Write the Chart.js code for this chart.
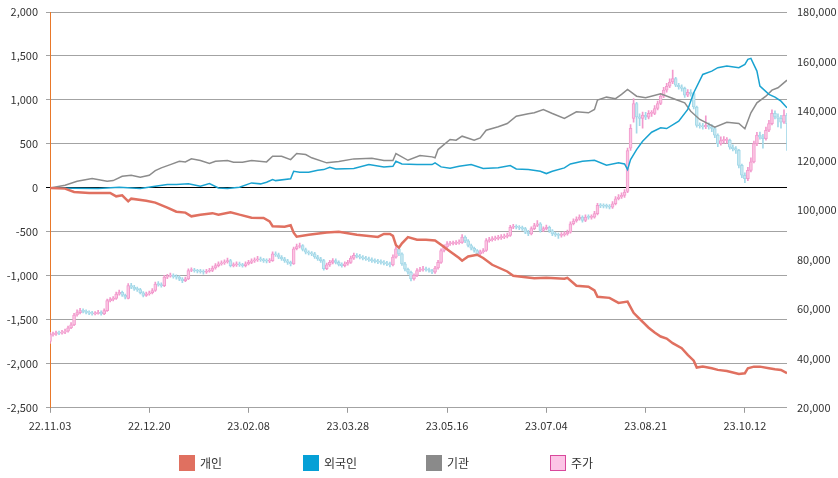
<!DOCTYPE html>
<html>
<head>
<meta charset="utf-8">
<script src="https://cdn.jsdelivr.net/npm/chart.js@4.4.0/dist/chart.umd.min.js"></script>
<style>
  body { margin: 0; background: #fff; }
  #wrap { position: relative; width: 838px; height: 478px; }
  #legend { position: absolute; left: 0; top: 455px; width: 838px; height: 17px; font: 12px "Noto Sans CJK KR", "Noto Sans", sans-serif; color: #333; }
  .item { position: absolute; top: 0; height: 17px; line-height: 17px; }
  .box { position: absolute; left: 0; top: 0; width: 16px; height: 16px; box-sizing: border-box; }
  .lbl { position: absolute; left: 21px; top: -1px; white-space: nowrap; }
</style>
</head>
<body>
<div id="wrap">
  <canvas id="chart"></canvas>
  <div id="legend"></div>
</div>
<script>
// x axis: trading-day index, labels every 33 days
var tickIdx = [0, 33, 66, 99, 132, 165, 198, 231];
var tickLabels = ["22.11.03", "22.12.20", "23.02.08", "23.03.28", "23.05.16", "23.07.04", "23.08.21", "23.10.12"];
var lastIdx = 245;

// 개인 (cumulative, left axis)
var indivIdx = [0,5,8,13,20,22,24,26,27,32,35,39,42,45,47,50,54,56,60,63,67,71,73,74,78,80,81,82,86,92,96,102,109,111,113,114,115,116,117,119,122,125,128,130,133,136,137,139,142,144,147,152,154,156,161,165,171,172,175,179,181,182,186,189,192,194,195,199,201,203,205,207,210,212,214,215,217,220,222,225,229,231,232,234,236,239,241,243,245];
var indivVal = [0,-8,-46,-57,-57,-96,-84,-153,-122,-145,-167,-224,-270,-281,-323,-304,-287,-304,-276,-304,-338,-342,-380,-435,-441,-424,-509,-555,-532,-506,-498,-532,-558,-524,-524,-545,-650,-680,-630,-560,-589,-589,-597,-646,-722,-797,-828,-779,-760,-797,-874,-950,-999,-1007,-1027,-1022,-1033,-1022,-1113,-1124,-1166,-1238,-1250,-1307,-1292,-1420,-1454,-1590,-1645,-1690,-1713,-1765,-1822,-1899,-1964,-2043,-2032,-2050,-2069,-2081,-2115,-2107,-2050,-2032,-2032,-2050,-2062,-2069,-2107];

// 외국인
var foreignIdx = [0,16,23,30,35,39,42,46,50,53,56,59,63,67,70,72,74,75,80,81,83,86,89,91,93,95,101,106,111,114,115,117,122,127,128,130,133,136,140,144,149,153,155,159,163,165,167,171,173,177,181,185,189,191,192,193,195,197,200,203,205,209,212,214,217,220,222,225,229,231,232,233,235,236,239,241,243,245];
var foreignVal = [0,-8,7,-8,18,38,38,46,18,49,0,-8,7,57,46,64,95,83,103,189,178,178,200,208,235,216,220,265,239,246,303,273,265,265,285,239,223,246,265,220,228,254,216,208,189,163,189,228,273,303,314,257,285,273,208,322,436,531,633,683,675,759,892,1082,1290,1328,1367,1385,1367,1404,1461,1473,1328,1157,1063,1032,986,911];

// 기관
var instIdx = [0,5,9,14,19,21,24,27,30,33,35,37,40,43,45,47,50,53,55,59,61,64,67,72,74,77,80,82,85,87,92,96,101,107,111,114,115,119,123,127,128,129,133,135,137,141,143,145,149,152,155,159,161,164,167,171,175,179,181,182,185,188,190,192,195,198,203,208,211,213,216,221,225,229,231,233,235,238,240,242,245];
var instVal = [0,30,75,106,75,83,132,144,121,144,197,228,265,303,296,330,311,277,303,311,292,292,311,296,360,360,322,391,379,342,285,300,330,337,311,311,391,314,368,353,342,436,550,542,588,542,569,656,695,732,816,843,854,892,846,789,866,854,892,998,1032,1014,1063,1120,1043,1025,1071,1006,968,872,778,690,747,732,672,854,968,1043,1112,1139,1225];

// 주가 (천원 단위, right axis)
var priceOpen = [46.8,49.6,49.8,50.3,50.2,50.6,51.0,52.3,53.5,57.5,
58.5,59.3,59.0,58.6,58.3,58.0,58.2,58.6,58.0,59.3,
63.3,63.8,64.2,66.0,66.7,65.5,64.2,69.4,68.8,68.0,
67.8,66.5,65.4,66.0,66.5,67.4,70.0,69.8,69.4,72.8,
73.2,73.5,73.0,72.8,72.0,71.4,72.1,75.5,75.8,75.4,
75.2,75.0,74.8,75.2,75.5,76.5,77.5,78.2,78.6,79.0,
79.5,77.5,77.8,78.2,77.8,77.5,78.2,78.8,79.4,79.8,
80.2,79.8,79.5,79.3,79.5,82.2,81.8,80.9,80.2,79.4,
78.8,78.2,84.3,85.2,85.6,84.0,82.9,82.5,82.2,81.0,
80.2,79.5,76.2,77.8,78.8,79.5,78.8,78.0,77.5,78.2,
78.8,80.5,81.6,81.2,80.9,80.5,80.2,79.8,79.5,79.2,
79.0,78.8,78.5,78.2,77.8,80.9,84.3,82.2,78.2,76.0,
74.8,72.1,73.5,75.5,75.8,76.2,75.8,75.5,74.8,76.5,
78.8,83.6,85.0,86.3,86.4,86.5,86.7,86.9,89.0,87.5,
85.6,84.5,83.6,82.2,83.0,83.6,87.6,88.0,88.3,88.5,
88.8,89.0,89.3,89.7,93.0,93.2,93.0,92.7,92.4,91.0,
90.3,92.4,93.7,94.4,91.7,92.4,93.0,91.5,90.3,90.0,
89.7,90.0,90.3,91.0,94.4,95.5,96.3,97.1,95.7,97.1,
97.0,97.1,98.5,101.8,101.6,101.5,101.4,101.1,102.5,104.5,
105.2,105.9,107.5,125.0,137.0,143.0,137.6,137.0,138.3,137.5,
139.0,139.0,141.0,143.0,146.0,148.4,150.0,151.7,153.1,150.4,
149.8,149.1,146.4,147.5,147.0,141.6,134.2,134.0,133.5,134.2,
133.5,132.9,130.2,126.8,128.0,128.1,128.1,125.4,124.8,124.1,
118.0,114.0,112.6,116.0,119.4,126.8,130.2,129.5,128.8,132.2,
134.9,139.0,137.6,137.0,135.5,138.3];
var priceClose = [49.6,49.8,50.3,50.2,50.6,51.0,52.3,53.5,57.5,58.5,
59.3,59.0,58.6,58.3,58.0,58.2,58.6,58.0,59.3,63.3,
63.8,64.2,66.0,66.7,65.5,64.7,69.4,68.8,68.0,67.8,
66.5,65.4,66.0,66.5,67.4,70.0,69.8,69.4,72.8,73.2,
73.5,73.0,72.8,72.0,71.4,72.1,75.5,75.8,75.4,75.2,
75.0,74.8,75.2,75.5,76.5,77.5,78.2,78.6,79.0,79.5,
77.5,77.8,78.2,77.8,77.5,78.2,78.8,79.4,79.8,80.2,
79.8,79.5,79.3,79.5,82.2,81.8,80.9,80.2,79.4,78.8,
78.2,84.3,85.2,85.6,84.0,82.9,82.5,82.2,81.0,80.2,
79.5,76.2,77.8,78.8,79.5,78.8,78.0,77.5,78.2,78.8,
80.5,81.6,81.2,80.9,80.5,80.2,79.8,79.5,79.2,79.0,
78.8,78.5,78.2,77.8,80.9,84.3,82.2,78.2,76.0,74.8,
72.1,73.5,75.5,75.8,76.2,75.8,75.5,74.8,76.5,78.8,
83.6,85.0,86.3,86.4,86.5,86.7,86.9,89.0,87.5,85.6,
84.5,83.6,82.2,83.0,83.6,87.6,88.0,88.3,88.5,88.8,
89.0,89.3,89.7,93.0,93.2,93.0,92.7,92.4,91.0,90.3,
92.4,93.7,94.4,91.7,92.4,93.0,91.5,90.3,90.0,89.7,
90.0,90.3,91.0,94.4,95.5,96.3,97.1,95.7,97.1,97.0,
97.1,98.5,101.8,101.6,101.5,101.4,101.1,102.5,104.5,105.2,
105.9,107.2,124.0,133.0,143.0,137.6,137.0,138.3,137.5,139.0,
139.0,141.0,143.0,146.0,148.4,150.0,151.7,153.1,150.4,149.8,
149.1,146.4,147.5,147.0,141.6,134.2,134.0,133.5,134.2,133.5,
132.9,130.2,126.8,128.0,128.1,128.1,125.4,124.8,124.1,118.0,
114.0,112.6,116.0,119.4,126.8,130.2,129.5,128.8,132.2,134.9,
139.0,137.6,137.0,135.5,138.3,134.9];
var priceHigh = [50.5,50.6,51.0,51.0,51.3,51.8,53.0,54.5,58.2,59.6,
60.2,60.0,59.6,59.2,59.0,58.9,59.4,59.2,60.0,64.0,
64.6,65.0,66.8,67.6,67.2,66.0,70.2,70.3,69.5,68.8,
68.3,67.0,66.8,67.2,68.2,70.8,71.0,70.5,73.5,74.0,
74.5,74.2,73.8,73.4,72.6,72.8,76.2,76.6,76.4,76.0,
76.0,75.8,76.0,76.4,77.3,78.3,79.0,79.4,79.8,80.5,
80.0,78.6,79.0,78.9,78.4,79.0,79.6,80.2,80.6,81.2,
80.9,80.4,80.2,80.3,83.0,83.0,82.5,81.5,80.8,80.0,
79.3,85.0,86.2,86.6,86.0,84.6,83.5,83.2,82.8,81.6,
80.8,80.0,78.5,79.6,80.3,80.2,79.4,78.6,79.0,79.6,
81.3,82.5,82.3,82.0,81.5,81.2,80.9,80.6,80.2,80.0,
79.8,79.5,79.2,78.9,81.8,85.2,84.8,82.6,78.8,76.5,
75.3,74.2,76.3,76.8,77.2,76.9,76.5,76.0,77.2,79.6,
84.3,85.9,87.2,87.3,87.4,87.6,87.9,90.0,89.5,88.0,
86.2,85.0,84.0,83.8,84.4,88.4,88.9,89.2,89.4,89.7,
90.0,90.2,90.6,93.8,94.2,94.0,93.7,93.5,93.0,91.7,
93.2,94.6,95.7,94.9,93.2,93.9,93.5,92.0,91.0,90.6,
90.8,91.2,91.8,95.2,96.4,97.2,98.0,97.6,98.0,98.0,
98.0,99.4,102.7,102.6,102.5,102.4,102.2,103.4,105.4,106.2,
106.9,108.2,125.0,134.5,145.0,143.5,138.8,139.5,139.4,140.2,
140.2,142.2,144.0,147.0,149.5,151.2,153.0,156.5,153.6,151.2,
150.6,149.6,148.6,148.6,147.5,142.0,135.2,135.0,138.0,135.2,
134.5,133.4,130.8,129.5,129.6,129.2,128.6,126.3,125.6,124.5,
118.5,115.0,117.2,121.0,127.8,131.4,131.5,130.5,133.5,136.2,
140.5,140.0,138.8,138.2,140.5,139.0];
var priceLow = [46.0,49.0,49.3,49.6,49.8,50.0,50.6,52.0,53.2,57.0,
58.0,58.4,58.0,57.6,57.4,57.5,57.8,57.4,57.6,59.0,
62.8,63.2,63.8,65.5,65.0,64.0,64.0,68.2,67.4,67.0,
66.0,64.8,65.0,65.5,66.0,67.0,69.2,68.8,69.0,72.2,
72.8,72.4,72.0,71.4,70.6,71.0,71.8,75.0,74.8,74.5,
74.4,74.0,74.3,74.8,75.0,76.0,77.0,77.7,78.0,78.5,
77.0,77.0,77.2,77.2,76.8,77.0,77.8,78.3,78.8,79.2,
79.2,78.8,78.6,78.7,79.2,81.2,80.3,79.6,78.8,78.0,
77.4,78.0,83.8,84.6,83.4,82.2,81.8,81.5,80.4,79.6,
78.8,75.6,75.8,77.2,78.2,78.2,77.4,76.8,77.0,77.7,
78.4,80.0,80.6,80.2,79.8,79.6,79.2,78.8,78.6,78.3,
78.1,77.8,77.5,77.0,77.4,80.5,81.5,77.6,75.3,74.0,
71.3,71.6,73.0,75.0,75.2,75.2,74.8,74.2,74.3,76.0,
78.4,83.0,84.6,85.6,85.8,85.9,86.1,86.5,86.8,85.0,
83.8,82.9,81.5,81.7,82.5,83.2,87.0,87.4,87.7,87.9,
88.1,88.4,88.7,89.3,92.4,92.3,92.0,91.7,90.4,89.6,
89.9,92.0,93.2,91.0,91.2,91.9,90.9,89.6,89.3,88.5,
89.0,89.4,89.8,90.6,93.9,95.0,95.8,95.0,95.2,96.3,
96.3,96.7,98.0,100.9,100.8,100.7,100.4,100.6,102.0,104.0,
104.6,105.0,107.0,124.0,135.5,131.0,134.0,133.0,136.5,136.8,
137.8,138.5,140.4,142.5,145.4,147.6,149.4,151.0,149.8,148.8,
148.0,145.5,145.8,146.0,140.8,133.4,133.0,132.6,132.8,132.6,
131.6,129.2,125.6,126.2,127.0,127.0,124.6,123.8,122.8,117.0,
113.0,111.0,111.8,115.4,119.0,126.0,128.6,125.0,128.2,131.6,
134.4,136.8,133.5,133.0,135.0,124.0];

var colIndiv = "#e07060";
var colForeign = "#1aa3d1";
var colInst = "#8c8c8c";
var upFill = "#fbc6e3", upLine = "#f29acd";
var downFill = "#c8e8f1", downLine = "#a3d8e8";

function pts(idx, vals) {
    return idx.map(function(x, k) { return { x: x, y: vals[k] }; });
}

var bodyData = [], wickData = [];
for (var i = 0; i <= lastIdx; i++) {
    bodyData.push({ x: i, y: [priceOpen[i] * 1000, priceClose[i] * 1000] });
    wickData.push({ x: i, y: [priceLow[i] * 1000, priceHigh[i] * 1000] });
}
function isUp(ctx) {
    var k = ctx.dataIndex;
    return priceClose[k] >= priceOpen[k];
}

Chart.defaults.font.family = '"Noto Sans CJK KR", "Noto Sans", sans-serif';
Chart.defaults.font.size = 11;
Chart.defaults.color = "#333";

var chartCanvas = document.getElementById("chart");
chartCanvas.width = 838; chartCanvas.height = 478;

new Chart(chartCanvas, {
    type: "line",
    data: {
        datasets: [
            { label: "개인", data: pts(indivIdx, indivVal), borderColor: colIndiv, borderWidth: 2.5, pointRadius: 0, tension: 0, yAxisID: "y", order: 0 },
            { label: "외국인", data: pts(foreignIdx, foreignVal), borderColor: colForeign, borderWidth: 1.5, pointRadius: 0, tension: 0, yAxisID: "y", order: 0 },
            { label: "기관", data: pts(instIdx, instVal), borderColor: colInst, borderWidth: 1.5, pointRadius: 0, tension: 0, yAxisID: "y", order: 0 },
            {
                type: "bar", label: "주가", data: bodyData, yAxisID: "y1", order: 1, grouped: false,
                barThickness: 3, minBarLength: 1, borderWidth: 1, borderSkipped: false,
                backgroundColor: function(ctx) { return isUp(ctx) ? upFill : downFill; },
                borderColor: function(ctx) { return isUp(ctx) ? upLine : downLine; }
            },
            {
                type: "bar", label: "wick", data: wickData, yAxisID: "y1", order: 2, grouped: false,
                barThickness: 1, borderWidth: 0,
                backgroundColor: function(ctx) { return isUp(ctx) ? upLine : downLine; }
            }
        ]
    },
    options: {
        responsive: false,
        animation: false,
        layout: { padding: { top: 12, bottom: 40, left: 0, right: 0 } },
        plugins: { legend: { display: false }, tooltip: { enabled: false } },
        scales: {
            x: {
                type: "linear", min: 0, max: lastIdx, offset: false,
                afterBuildTicks: function(s) { s.ticks = tickIdx.map(function(v) { return { value: v }; }); },
                ticks: { autoSkip: false, maxRotation: 0, padding: 6, callback: function(v, k) { return tickLabels[k]; } },
                grid: { drawOnChartArea: false, offset: false, tickLength: 5, color: "#999" },
                border: { display: false }
            },
            y: {
                position: "left", min: -2500, max: 2000,
                ticks: { stepSize: 500, padding: 8, callback: function(v) { return v.toLocaleString("en-US"); } },
                grid: { tickLength: 4, color: function(ctx) { return ctx.tick && ctx.tick.value === 0 ? "#000" : "#a3a3a3"; } },
                border: { color: "#e8782a", width: 1 },
                afterFit: function(s) { s.width = 50; s.paddingTop = 0; s.paddingBottom = 0; }
            },
            y1: {
                position: "right", min: 20000, max: 180000,
                ticks: { stepSize: 20000, padding: 10, callback: function(v) { return v.toLocaleString("en-US"); } },
                grid: { display: false, drawTicks: false },
                border: { display: false },
                afterFit: function(s) { s.width = 51; s.paddingTop = 0; s.paddingBottom = 0; }
            }
        }
    }
});

// legend
var legendItems = [
    { text: "개인", left: 179, fill: colIndiv, line: colIndiv },
    { text: "외국인", left: 303, fill: "#05a0d6", line: "#05a0d6" },
    { text: "기관", left: 426, fill: "#8a8a8a", line: "#8a8a8a" },
    { text: "주가", left: 550, fill: "#fcc5e6", line: "#d9489c" }
];
var legend = document.getElementById("legend");
legendItems.forEach(function(it) {
    var d = document.createElement("div");
    d.className = "item";
    d.style.left = it.left + "px";
    d.innerHTML = '<span class="box" style="background:' + it.fill + ';border:1px solid ' + it.line + '"></span><span class="lbl">' + it.text + '</span>';
    legend.appendChild(d);
});
</script>
</body>
</html>
